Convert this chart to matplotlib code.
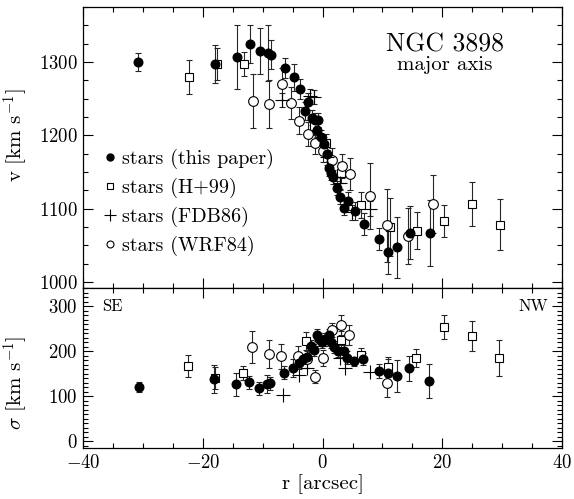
import numpy as np
import matplotlib
matplotlib.use("Agg")
import matplotlib.pyplot as plt
from matplotlib.lines import Line2D
from matplotlib.ticker import MultipleLocator

plt.rcParams['font.family'] = ['cmr10', 'DejaVu Serif']
plt.rcParams['mathtext.fontset'] = 'cm'
plt.rcParams['axes.formatter.use_mathtext'] = True
plt.rcParams['font.size'] = 13

# ---- velocity, this paper
r_v_this = [-30.8, -17.9, -14.3, -12.1, -10.4, -9.1, -8.6, -6.3, -4.75, -3.75, -3.0, -2.5,
            -1.8, -1.25, -0.7, -0.97, -0.3, 0.3, 0.7, 1.1, 1.4, 1.7, 2.4, 2.9, 3.5, 4.3,
            5.4, 6.9, 9.4, 11.0, 12.5, 14.6, 17.9]
v_this = [1300, 1297, 1307, 1325, 1315, 1312, 1310, 1292, 1279, 1263, 1233, 1246,
          1224, 1221, 1221, 1207, 1197, 1188, 1174, 1155, 1149, 1143, 1128, 1116, 1101, 1110,
          1097, 1079, 1058, 1041, 1047, 1067, 1066]
ev_this = [12, 26, 44, 26, 31, 38, 20, 14, 18, 14, 12, 12,
           10, 10, 10, 10, 10, 10, 10, 10, 10, 10, 10, 10, 10, 12,
           12, 15, 15, 30, 42, 36, 45]

# ---- velocity, H+99
r_v_h99 = [-22.3, -17.7, -13.1, -1.5, 0.5, 3.1, 6.5, 11.2, 15.7, 20.3, 25.0, 29.6]
v_h99 = [1279, 1297, 1297, 1212, 1190, 1149, 1105, 1075, 1070, 1083, 1106, 1078]
ev_h99 = [23, 22, 16, 12, 12, 14, 18, 40, 25, 22, 30, 35]

# ---- velocity, FDB86
r_v_fdb = [-6.8, -2.1, -1.5, 0.8, 2.9, 4.9, 8.0]
v_fdb = [1248, 1253, 1252, 1170, 1135, 1095, 1100]
ev_fdb = [10, 10, 10, 10, 10, 10, 10]

# ---- velocity, WRF84
r_v_wrf = [-11.7, -8.9, -6.8, -5.3, -3.9, -2.5, -1.25, 0.1, 1.6, 3.2, 4.5, 7.9, 10.8, 14.3, 18.5]
v_wrf = [1247, 1243, 1270, 1244, 1220, 1202, 1189, 1178, 1166, 1158, 1147, 1117, 1077, 1063, 1106]
ev_wrf = [37, 33, 22, 22, 18, 16, 14, 14, 16, 16, 22, 45, 50, 38, 40]

# ---- dispersion, this paper
r_s_this = [-30.7, -18.2, -14.5, -12.3, -10.6, -9.3, -8.8, -6.4, -5.0, -3.9, -3.2, -2.6,
            -2.0, -1.4, -1.0, -0.6, -0.1, 0.4, 1.0, 1.4, 1.9, 2.5, 3.5, 4.1, 5.3, 6.8,
            9.4, 11.0, 12.5, 14.5, 17.8]
s_this = [121, 138, 127, 131, 118, 127, 129, 153, 163, 175, 183, 188,
          212, 203, 236, 227, 221, 227, 236, 221, 210, 201, 201, 186, 178, 183,
          156, 153, 145, 162, 134]
es_this = [12, 31, 26, 15, 15, 20, 15, 15, 20, 15, 12, 12,
           14, 14, 14, 14, 14, 14, 14, 14, 14, 14, 14, 14, 10, 14,
           15, 30, 35, 28, 38]

# ---- dispersion, H+99
r_s_h99 = [-22.5, -17.9, -13.3, -2.8, 3.0, 6.4, 11.0, 15.6, 20.3, 24.9, 29.5]
s_h99 = [168, 141, 152, 223, 226, 193, 166, 186, 254, 234, 186]
es_h99 = [24, 24, 16, 20, 20, 15, 22, 20, 26, 34, 40]

# ---- dispersion, FDB86
r_s_fdb = [-6.6, -4.0, -2.6, 2.9, 3.8, 7.9]
s_fdb = [103, 147, 164, 186, 162, 155]

# ---- dispersion, WRF84
r_s_wrf = [-11.8, -9.0, -7.0, -4.1, -2.6, -1.25, 0.15, 1.5, 3.1, 4.4, 10.7]
s_wrf = [210, 194, 189, 189, 182, 144, 186, 247, 259, 236, 130]
es_wrf = [36, 32, 28, 22, 20, 14, 18, 16, 22, 22, 32]

fig = plt.figure(figsize=(5.74, 4.99), dpi=100)
ax1 = fig.add_axes([0.145, 0.422, 0.834, 0.564])
ax2 = fig.add_axes([0.145, 0.102, 0.834, 0.320], sharex=ax1)

eb = dict(ecolor='0.15', elinewidth=0.8, capsize=2.5, capthick=0.8, linestyle='none')

ax1.errorbar(r_v_h99, v_h99, yerr=ev_h99, fmt='s', ms=6, mfc='white', mec='black', mew=0.8, **eb)
ax1.errorbar(r_v_wrf, v_wrf, yerr=ev_wrf, fmt='o', ms=7, mfc='white', mec='black', mew=0.8, **eb)
ax1.errorbar(r_v_fdb, v_fdb, yerr=ev_fdb, fmt='+', ms=10, mec='black', mew=0.8, **eb)
ax1.errorbar(r_v_this, v_this, yerr=ev_this, fmt='o', ms=6.2, mfc='black', mec='black', **eb)

ax2.errorbar(r_s_h99, s_h99, yerr=es_h99, fmt='s', ms=6, mfc='white', mec='black', mew=0.8, **eb)
ax2.errorbar(r_s_wrf, s_wrf, yerr=es_wrf, fmt='o', ms=7, mfc='white', mec='black', mew=0.8, **eb)
ax2.plot(r_s_fdb, s_fdb, '+', ms=10, mec='black', mew=0.8)
ax2.errorbar(r_s_this, s_this, yerr=es_this, fmt='o', ms=6.2, mfc='black', mec='black', **eb)

ax1.set_xlim(-40, 40)
ax1.set_ylim(991, 1375)
ax2.set_ylim(-15, 340)

for ax in (ax1, ax2):
    ax.xaxis.set_major_locator(MultipleLocator(20))
    ax.xaxis.set_minor_locator(MultipleLocator(5))
    ax.tick_params(which='both', direction='in', top=True, right=True)
    ax.tick_params(which='major', length=7, width=0.8, labelsize=13.5, pad=4)
    ax.tick_params(which='minor', length=3.5, width=0.8)
    for s in ax.spines.values():
        s.set_linewidth(0.9)

ax1.yaxis.set_major_locator(MultipleLocator(100))
ax1.yaxis.set_minor_locator(MultipleLocator(25))
ax2.yaxis.set_major_locator(MultipleLocator(100))
ax2.yaxis.set_minor_locator(MultipleLocator(10))
ax1.tick_params(labelbottom=False)

ax1.set_ylabel(r'v [km s$^{-1}$]', fontsize=15)
ax2.set_ylabel(r'$\sigma$ [km s$^{-1}$]', fontsize=15)
ax2.set_xlabel('r [arcsec]', fontsize=15, labelpad=2)
ax1.yaxis.set_label_coords(-0.112, 0.545)
ax2.yaxis.set_label_coords(-0.112, 0.41)

ax1.text(0.756, 0.865, 'NGC 3898', transform=ax1.transAxes, ha='center', va='center', fontsize=18.5)
ax1.text(0.756, 0.793, 'major axis', transform=ax1.transAxes, ha='center', va='center', fontsize=15)
ax2.text(0.06, 0.89, 'SE', transform=ax2.transAxes, ha='center', va='center', fontsize=12)
ax2.text(0.94, 0.89, 'NW', transform=ax2.transAxes, ha='center', va='center', fontsize=12)

handles = [
    Line2D([], [], marker='o', ms=5, mfc='black', mec='black', ls='none'),
    Line2D([], [], marker='s', ms=4.5, mfc='white', mec='black', mew=0.8, ls='none'),
    Line2D([], [], marker='+', ms=8, mec='black', mew=0.8, ls='none'),
    Line2D([], [], marker='o', ms=5, mfc='white', mec='black', mew=0.8, ls='none'),
]
labels = ['stars (this paper)', 'stars (H+99)', 'stars (FDB86)', 'stars (WRF84)']
ax1.legend(handles, labels, loc='center left', bbox_to_anchor=(0.044, 0.305), frameon=False,
           borderaxespad=0, borderpad=0, handlelength=0.6, handletextpad=0.3,
           labelspacing=0.45, fontsize=14.5)

fig.savefig('out.png', dpi=100)
